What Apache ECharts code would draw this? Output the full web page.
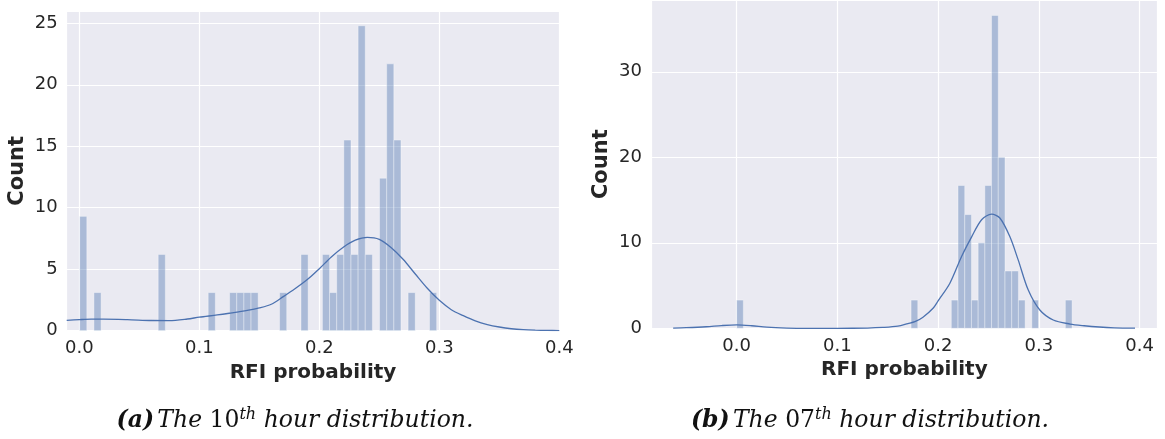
<!DOCTYPE html>
<html>
<head>
<meta charset="utf-8">
<script src="https://cdn.jsdelivr.net/npm/echarts@6/dist/echarts.min.js"></script>
<style>
  html, body { margin: 0; padding: 0; background: #ffffff; }
  #chart { width: 1165px; height: 439px; }
</style>
</head>
<body>
<div id="chart"></div>
<script>
// ---- Panel (a): 10th hour ----
const hourABinStart = 0.0003;     // left edge of the first histogram bin
const hourABinWidth = 0.00595;    // width of one bin (50 bins)
const hourABins = [0, 2, 11, 18, 21, 22, 23, 24, 28, 31, 34, 35, 36, 37, 38, 39, 40, 42, 43, 44, 46, 49];
const hourACounts = [9.3, 3.1, 6.2, 3.1, 3.1, 3.1, 3.1, 3.1, 3.1, 6.2, 6.2, 3.1, 6.2, 15.5, 6.2, 24.8, 6.2, 12.4, 21.7, 15.5, 3.1, 3.1];
const hourAKdeX = [-0.0105, 0.0, 0.01, 0.02, 0.04, 0.06, 0.075, 0.09, 0.1, 0.115, 0.125, 0.14, 0.15, 0.16, 0.17, 0.18, 0.19, 0.2, 0.21, 0.22, 0.23, 0.24, 0.25, 0.26, 0.27, 0.28, 0.29, 0.3, 0.31, 0.32, 0.33, 0.34, 0.35, 0.36, 0.37, 0.38, 0.39, 0.4];
const hourAKdeY = [0.84, 0.9, 0.94, 0.94, 0.9, 0.83, 0.82, 0.95, 1.1, 1.28, 1.42, 1.65, 1.85, 2.15, 2.77, 3.43, 4.16, 5.04, 6.0, 6.79, 7.36, 7.59, 7.43, 6.75, 5.79, 4.61, 3.45, 2.47, 1.71, 1.22, 0.8, 0.5, 0.3, 0.16, 0.08, 0.04, 0.02, 0.01];

// ---- Panel (b): 07th hour ----
const hourBBinStart = 0.0;
const hourBBinWidth = 0.00666;
const hourBBins = [0, 26, 32, 33, 34, 35, 36, 37, 38, 39, 40, 41, 42, 44, 49];
const hourBCounts = [3.3, 3.3, 3.3, 16.7, 13.3, 3.3, 10.0, 16.7, 36.6, 20.0, 6.7, 6.7, 3.3, 3.3, 3.3];
const hourBKdeX = [-0.063, -0.05, -0.03, -0.015, 0.0, 0.015, 0.03, 0.05, 0.07, 0.1, 0.13, 0.145, 0.16, 0.17, 0.177, 0.185, 0.195, 0.2, 0.2117, 0.2233, 0.2333, 0.2432, 0.2531, 0.2613, 0.2713, 0.2795, 0.2894, 0.301, 0.3143, 0.331, 0.345, 0.36, 0.375, 0.3955];
const hourBKdeY = [0.03, 0.07, 0.18, 0.32, 0.4, 0.3, 0.13, 0.03, 0.0, 0.0, 0.03, 0.1, 0.25, 0.55, 0.77, 1.3, 2.34, 3.2, 5.27, 8.4, 10.7, 12.7, 13.35, 12.9, 10.7, 8.0, 4.5, 2.14, 0.97, 0.5, 0.3, 0.15, 0.06, 0.01];

// Axis text
const xAxisName = 'RFI probability';
const yAxisName = 'Count';

const BLUE = '#4c72b0';
const TEXT = '#262626';
const SANS = 'DejaVu Sans';
const SERIF = 'DejaVu Serif';

function histRows(start, width, bins, counts) {
  return bins.map((b, k) => [start + b * width, start + (b + 1) * width, counts[k]]);
}
function kdeRows(xs, ys) {
  return xs.map((x, k) => [x, ys[k]]);
}

function renderBar(params, api) {
  const x0 = api.value(0), x1 = api.value(1), h = api.value(2);
  const topLeft = api.coord([x0, h]);
  const bottomRight = api.coord([x1, 0]);
  return {
    type: 'rect',
    shape: { x: topLeft[0], y: topLeft[1], width: bottomRight[0] - topLeft[0], height: bottomRight[1] - topLeft[1] },
    style: { fill: 'rgba(76,114,176,0.4)', stroke: 'rgba(255,255,255,0.35)', lineWidth: 1 }
  };
}

function xAxisFor(gridIndex, min, max, showMax) {
  return {
    type: 'value', gridIndex, min, max,
    name: xAxisName, nameLocation: 'middle', nameGap: 30,
    nameTextStyle: { fontFamily: SANS, fontWeight: 'bold', fontSize: 20, color: TEXT },
    axisLine: { show: false }, axisTick: { show: false },
    axisLabel: { fontFamily: SANS, fontSize: 18, color: TEXT, margin: 9, showMinLabel: false, showMaxLabel: showMax,
      formatter: v => v.toFixed(1) },
    splitLine: { show: true, lineStyle: { color: '#ffffff', width: 1.2 } }
  };
}
function yAxisFor(gridIndex, max, interval) {
  return {
    type: 'value', gridIndex, min: 0, max, interval,
    name: yAxisName, nameLocation: 'middle', nameGap: 39,
    nameTextStyle: { fontFamily: SANS, fontWeight: 'bold', fontSize: 21, color: TEXT },
    axisLine: { show: false }, axisTick: { show: false },
    axisLabel: { fontFamily: SANS, fontSize: 18, color: TEXT, margin: 9, showMaxLabel: false },
    splitLine: { show: true, lineStyle: { color: '#ffffff', width: 1.2 } }
  };
}

function caption(x, tag, number) {
  return {
    type: 'text', x, y: 421,
    style: {
      text: '{b|' + tag + '} {i|The }{n|' + number + '}{s|th}{i| hour distribution.}',
      align: 'center', verticalAlign: 'middle',
      rich: {
        b: { fontFamily: SERIF, fontStyle: 'italic', fontWeight: 'bold', fontSize: 23.5, lineHeight: 29, fill: '#111111' },
        i: { fontFamily: SERIF, fontStyle: 'italic', fontSize: 23.5, lineHeight: 29, fill: '#111111' },
        n: { fontFamily: SERIF, fontSize: 23.5, lineHeight: 29, fill: '#111111' },
        s: { fontFamily: SERIF, fontStyle: 'italic', fontSize: 16, lineHeight: 18, verticalAlign: 'top', fill: '#111111' }
      }
    }
  };
}

const chart = echarts.init(document.getElementById('chart'), null, { renderer: 'canvas' });
chart.setOption({
  animation: false,
  backgroundColor: '#ffffff',
  grid: [
    { left: 66.7, top: 11, width: 492.6, height: 319.7, show: true, backgroundColor: '#eaeaf2', borderWidth: 0, outerBoundsMode: 'none' },
    { left: 651, top: 0, width: 506.7, height: 328.3, show: true, backgroundColor: '#eaeaf2', borderWidth: 0, outerBoundsMode: 'none' }
  ],
  xAxis: [xAxisFor(0, -0.0105, 0.4, true), xAxisFor(1, -0.085, 0.418, false)],
  yAxis: [yAxisFor(0, 26.0, 5), yAxisFor(1, 38.4, 10)],
  series: [
    { type: 'custom', xAxisIndex: 0, yAxisIndex: 0, renderItem: renderBar, encode: { x: [0, 1], y: 2 },
      data: histRows(hourABinStart, hourABinWidth, hourABins, hourACounts), z: 2 },
    { type: 'line', xAxisIndex: 0, yAxisIndex: 0, data: kdeRows(hourAKdeX, hourAKdeY), smooth: 0.3,
      showSymbol: false, lineStyle: { color: BLUE, width: 1.3 }, z: 3 },
    { type: 'custom', xAxisIndex: 1, yAxisIndex: 1, renderItem: renderBar, encode: { x: [0, 1], y: 2 },
      data: histRows(hourBBinStart, hourBBinWidth, hourBBins, hourBCounts), z: 2 },
    { type: 'line', xAxisIndex: 1, yAxisIndex: 1, data: kdeRows(hourBKdeX, hourBKdeY), smooth: 0.3,
      showSymbol: false, lineStyle: { color: BLUE, width: 1.3 }, z: 3 }
  ],
  graphic: [caption(295, '(a)', '10'), caption(870, '(b)', '07')]
});
</script>
</body>
</html>
